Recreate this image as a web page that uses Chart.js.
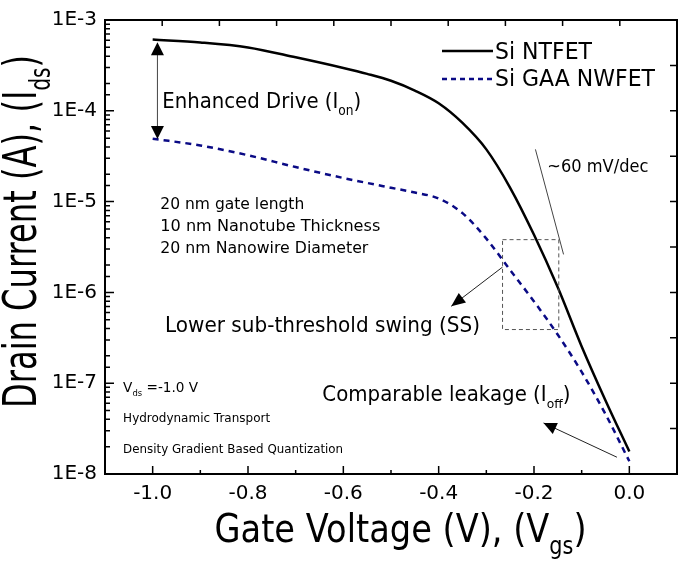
<!DOCTYPE html>
<html lang="en">
<head>
  <meta charset="UTF-8">
  <title>Drain Current vs Gate Voltage</title>
  <script src="https://cdn.jsdelivr.net/npm/chart.js@4/dist/chart.umd.min.js"></script>
  <style>
    body { margin: 0; background: #fff; }
    .chart-container { width: 685px; height: 565px; position: relative; }
  </style>
</head>
<body>
<div class="chart-container">
  <canvas id="idsChart"></canvas>
</div>

<script>
  // gate voltage (V) and drain current (A)
  const vgsNT = [-1.0, -0.9, -0.8, -0.7, -0.6, -0.55, -0.5, -0.45, -0.4, -0.35, -0.3, -0.25, -0.2, -0.15, -0.1, -0.05, 0.0];
  const idsNT = [6.08e-4, 5.65e-4, 4.98e-4, 3.88e-4, 2.96e-4, 2.55e-4, 2.14e-4, 1.67e-4, 1.21e-4, 7.35e-5, 3.76e-5, 1.42e-5, 4.31e-6, 1.13e-6, 2.54e-7, 6.46e-8, 1.77e-8];
  const vgsNW = [-1.0, -0.9, -0.8, -0.7, -0.6, -0.5, -0.45, -0.4, -0.35, -0.3, -0.25, -0.2, -0.15, -0.1, -0.05, 0.0];
  const idsNW = [4.93e-5, 4.15e-5, 3.24e-5, 2.40e-5, 1.82e-5, 1.42e-5, 1.26e-5, 1.08e-5, 7.46e-6, 3.91e-6, 1.76e-6, 7.96e-7, 3.41e-7, 1.33e-7, 4.56e-8, 1.38e-8];
  const seriesNames = ['Si NTFET', 'Si GAA NWFET'];
  const xRange = [-1.1, 0.1];
  const yRange = [1e-8, 1e-3];

  const FONT = '"DejaVu Sans", sans-serif';
  const NAVY = '#0a0a85';

  // text with subscripts, squeezed horizontally to the wanted width
  function drawRich(ctx, parts, x, y, size, width, rot) {
    ctx.save();
    ctx.translate(x, y);
    if (rot) ctx.rotate(rot);
    ctx.textAlign = 'left';
    ctx.textBaseline = 'alphabetic';
    ctx.fillStyle = '#000';
    let natural = 0;
    parts.forEach(p => {
      ctx.font = (p[1] ? size * 0.62 : size) + 'px ' + FONT;
      natural += ctx.measureText(p[0]).width;
    });
    ctx.scale(width / natural, 1);
    let cx = 0;
    parts.forEach(p => {
      ctx.font = (p[1] ? size * 0.62 : size) + 'px ' + FONT;
      ctx.fillText(p[0], cx, p[1] ? size * 0.3 : 0);
      cx += ctx.measureText(p[0]).width;
    });
    ctx.restore();
  }

  function arrowHead(ctx, x1, y1, x2, y2, len, half) {
    const a = Math.atan2(y2 - y1, x2 - x1);
    ctx.beginPath();
    ctx.moveTo(x2, y2);
    ctx.lineTo(x2 - len * Math.cos(a) + half * Math.sin(a), y2 - len * Math.sin(a) - half * Math.cos(a));
    ctx.lineTo(x2 - len * Math.cos(a) - half * Math.sin(a), y2 - len * Math.sin(a) + half * Math.cos(a));
    ctx.closePath();
    ctx.fill();
  }

  const decorPlugin = {
    id: 'decor',
    afterDraw(chart) {
      const ctx = chart.ctx;
      const xs = chart.scales.x, ys = chart.scales.y;
      const a = chart.chartArea;
      const X = v => xs.getPixelForValue(v);
      const Y = v => ys.getPixelForValue(v);

      ctx.save();
      // frame
      ctx.strokeStyle = '#000';
      ctx.lineWidth = 2;
      ctx.strokeRect(a.left, a.top, a.right - a.left, a.bottom - a.top);

      // inward ticks: bottom and left from the scales
      ctx.lineWidth = 1.5;
      ctx.beginPath();
      xs.ticks.forEach(t => {
        const p = X(t.value);
        const major = Math.round(t.value * 10) % 2 === 0;
        ctx.moveTo(p, a.bottom);
        ctx.lineTo(p, a.bottom - (major ? 8 : 4));
      });
      ys.ticks.forEach(t => {
        const p = Y(t.value);
        ctx.moveTo(a.left, p);
        ctx.lineTo(a.left + (t.major ? 9 : 5), p);
      });
      // top and right edges carry plain evenly spaced ticks
      for (let k = 1; k < 10; k++) {
        const px = a.left + k * (a.right - a.left) / 10;
        ctx.moveTo(px, a.top);
        ctx.lineTo(px, a.top + 6);
        const py = a.top + k * (a.bottom - a.top) / 10;
        ctx.moveTo(a.right, py);
        ctx.lineTo(a.right - 7, py);
      }
      ctx.stroke();

      // legend
      const lx = a.right - 235;
      ctx.lineWidth = 2.5;
      ctx.strokeStyle = '#000';
      ctx.beginPath();
      ctx.moveTo(lx, a.top + 31);
      ctx.lineTo(lx + 51, a.top + 31);
      ctx.stroke();
      ctx.strokeStyle = NAVY;
      ctx.setLineDash([5, 4]);
      ctx.beginPath();
      ctx.moveTo(lx, a.top + 59);
      ctx.lineTo(lx + 51, a.top + 59);
      ctx.stroke();
      ctx.setLineDash([]);
      drawRich(ctx, [[seriesNames[0]]], lx + 53, a.top + 39, 23, 97);
      drawRich(ctx, [[seriesNames[1]]], lx + 53, a.top + 66, 23, 160);

      // enhanced drive arrow
      ctx.strokeStyle = '#444';
      ctx.fillStyle = '#000';
      ctx.lineWidth = 1;
      const ax = X(-0.99);
      ctx.beginPath();
      ctx.moveTo(ax, Y(5.7e-4) + 10);
      ctx.lineTo(ax, Y(4.9e-5) - 10);
      ctx.stroke();
      arrowHead(ctx, ax, Y(4.9e-5), ax, Y(5.7e-4), 13, 6.5);
      arrowHead(ctx, ax, Y(5.7e-4), ax, Y(4.9e-5), 13, 6.5);

      // 60 mV/dec guide
      ctx.beginPath();
      ctx.moveTo(X(-0.197), Y(3.76e-5));
      ctx.lineTo(X(-0.138), Y(2.62e-6));
      ctx.stroke();

      // dashed box round the sub-threshold region
      ctx.strokeStyle = '#555';
      ctx.setLineDash([4, 3]);
      ctx.strokeRect(X(-0.266), Y(3.81e-6), X(-0.148) - X(-0.266), Y(3.9e-7) - Y(3.81e-6));
      ctx.setLineDash([]);

      // SS arrow
      ctx.strokeStyle = '#222';
      ctx.beginPath();
      ctx.moveTo(X(-0.266), Y(1.9e-6));
      ctx.lineTo(X(-0.3736), Y(7.03e-7));
      ctx.stroke();
      arrowHead(ctx, X(-0.266), Y(1.9e-6), X(-0.3736), Y(7.03e-7), 14, 6);

      // leakage arrow
      ctx.beginPath();
      ctx.moveTo(X(-0.026), Y(1.53e-8));
      ctx.lineTo(X(-0.18), Y(3.65e-8));
      ctx.stroke();
      arrowHead(ctx, X(-0.026), Y(1.53e-8), X(-0.18), Y(3.65e-8), 13, 6);

      // annotations
      drawRich(ctx, [['Enhanced Drive (I'], ['on', 1], [')']], X(-0.98), Y(1.07e-4), 21.5, 199);
      drawRich(ctx, [['20 nm gate length']], X(-0.984), Y(8.38e-6), 16, 144);
      drawRich(ctx, [['10 nm Nanotube Thickness']], X(-0.984), Y(4.69e-6), 16, 220);
      drawRich(ctx, [['20 nm Nanowire Diameter']], X(-0.984), Y(2.74e-6), 16, 208);
      drawRich(ctx, [['~60 mV/dec']], X(-0.172), Y(2.13e-5), 17, 101);
      drawRich(ctx, [['Lower sub-threshold swing (SS)']], X(-0.974), Y(3.68e-7), 21.5, 315);
      drawRich(ctx, [['Comparable leakage (I'], ['off', 1], [')']], X(-0.644), Y(6.3e-8), 20.6, 248);
      drawRich(ctx, [['V'], ['ds', 1], [' =-1.0 V']], X(-1.062), Y(8.07e-8), 13.7, 75);
      drawRich(ctx, [['Hydrodynamic Transport']], X(-1.062), Y(3.73e-8), 13, 147);
      drawRich(ctx, [['Density Gradient Based Quantization']], X(-1.062), Y(1.70e-8), 13, 220);

      // axis titles
      drawRich(ctx, [['Gate Voltage (V), (V'], ['gs', 1], [')']], 214.5, 542, 39, 372);
      drawRich(ctx, [['Drain Current (A), (I'], ['ds', 1], [')']], 36, 408, 46, 353, -Math.PI / 2);
      ctx.restore();
    }
  };

  const ctx = document.getElementById('idsChart').getContext('2d');
  new Chart(ctx, {
    type: 'line',
    data: {
      datasets: [{
        label: seriesNames[0],
        data: vgsNT.map((v, i) => ({ x: v, y: idsNT[i] })),
        borderColor: '#000',
        borderWidth: 2.5,
        pointRadius: 0,
        cubicInterpolationMode: 'monotone'
      }, {
        label: seriesNames[1],
        data: vgsNW.map((v, i) => ({ x: v, y: idsNW[i] })),
        borderColor: NAVY,
        borderWidth: 2.5,
        borderDash: [6, 5],
        pointRadius: 0,
        cubicInterpolationMode: 'monotone'
      }]
    },
    options: {
      responsive: true,
      maintainAspectRatio: false,
      animation: false,
      layout: { padding: { top: 11, right: 3, left: 0, bottom: 0 } },
      plugins: { legend: { display: false }, tooltip: { enabled: false } },
      scales: {
        x: {
          type: 'linear',
          min: xRange[0],
          max: xRange[1],
          grid: { display: false, drawTicks: false },
          border: { display: false },
          afterFit: s => { s.height = 91; },
          ticks: {
            stepSize: 0.1,
            autoSkip: false,
            maxRotation: 0,
            padding: 8,
            color: '#000',
            font: { family: FONT, size: 20 },
            callback: v => {
              const k = Math.round(v * 10);
              return (k % 2 === 0 && k >= -10 && k <= 0) ? (k / 10).toFixed(1) : '';
            }
          }
        },
        y: {
          type: 'logarithmic',
          min: yRange[0],
          max: yRange[1],
          grid: { display: false, drawTicks: false },
          border: { display: false },
          afterFit: s => { s.width = 105; },
          ticks: {
            autoSkip: false,
            padding: 8,
            color: '#000',
            font: { family: FONT, size: 20 },
            callback: v => {
              const e = Math.log10(v);
              return Math.abs(e - Math.round(e)) < 1e-6 ? '1E' + Math.round(e) : '';
            }
          }
        }
      }
    },
    plugins: [decorPlugin]
  });
</script>
</body>
</html>
